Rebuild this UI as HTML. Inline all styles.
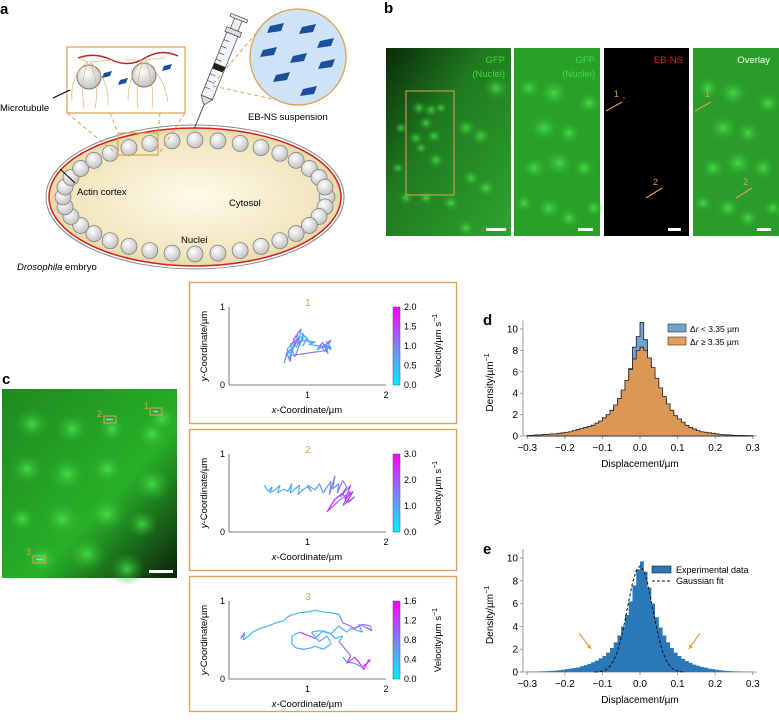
<!DOCTYPE html>
<html><head><meta charset="utf-8"><style>
body{margin:0;background:#fff;width:779px;height:719px;overflow:hidden;font-family:"Liberation Sans",sans-serif}
svg text{font-family:"Liberation Sans",sans-serif}
</style></head><body>
<svg id="fig" width="779" height="719" viewBox="0 0 779 719" xmlns="http://www.w3.org/2000/svg">
<defs>
<radialGradient id="cyto" cx="0.5" cy="0.5" r="0.6"><stop offset="0" stop-color="#fffbea"/><stop offset="0.7" stop-color="#f2e6bf"/><stop offset="1" stop-color="#d9c88f"/></radialGradient>
<radialGradient id="nuc" cx="0.4" cy="0.35" r="0.7"><stop offset="0" stop-color="#ffffff"/><stop offset="1" stop-color="#bdbdbd"/></radialGradient>
<radialGradient id="blob" cx="0.5" cy="0.5" r="0.5"><stop offset="0" stop-color="#4ef04e" stop-opacity="0.75"/><stop offset="1" stop-color="#2a9a2a" stop-opacity="0"/></radialGradient>
<linearGradient id="vel" x1="0" y1="1" x2="0" y2="0"><stop offset="0" stop-color="#00f0ff"/><stop offset="0.5" stop-color="#7f80ff"/><stop offset="1" stop-color="#ff00ff"/></linearGradient>
<linearGradient id="g1" x1="0" y1="0" x2="1" y2="1"><stop offset="0" stop-color="#0a2a0a"/><stop offset="0.4" stop-color="#1f7a1f"/><stop offset="1" stop-color="#2ea42e"/></linearGradient>
<linearGradient id="gc" x1="0" y1="0" x2="1" y2="1"><stop offset="0" stop-color="#1f8a1f"/><stop offset="0.6" stop-color="#27b027"/><stop offset="1" stop-color="#0a200a"/></linearGradient>
</defs>

<g>
<text x="0" y="14" font-size="15" font-weight="bold">a</text>
<ellipse cx="195" cy="197" rx="149" ry="72" fill="#fff" stroke="#888" stroke-width="1"/>
<ellipse cx="195" cy="197" rx="146" ry="69" fill="url(#cyto)" stroke="#d62020" stroke-width="1.5"/>
<g id="nuclei"></g>
<rect x="118" y="133" width="40" height="22" fill="none" stroke="#e2a050" stroke-width="1.2"/>
<line x1="67" y1="113" x2="118" y2="155" stroke="#e2a050" stroke-dasharray="4,3"/>
<line x1="185" y1="113" x2="158" y2="155" stroke="#e2a050" stroke-dasharray="4,3"/>
<line x1="110" y1="113" x2="118" y2="133" stroke="#e2a050" stroke-dasharray="4,3"/>
<line x1="160" y1="113" x2="158" y2="133" stroke="#e2a050" stroke-dasharray="4,3"/>
<rect x="67" y="47" width="118" height="66" fill="#fff" stroke="#e2a050" stroke-width="1.2"/>
<path d="M78,58 Q95,52 112,60 T145,58 T178,56" fill="none" stroke="#c0202a" stroke-width="1.5"/>
<circle cx="89" cy="77" r="12" fill="url(#nuc)" stroke="#777"/>
<circle cx="144" cy="75" r="12" fill="url(#nuc)" stroke="#777"/>
<g stroke="#e8b070" stroke-width="0.7" fill="none">
<path d="M88,62 Q80,80 84,108"/><path d="M90,62 Q100,85 95,108"/><path d="M88,62 Q70,75 72,100"/><path d="M90,62 Q110,80 108,105"/>
<path d="M143,60 Q135,85 138,108"/><path d="M145,60 Q155,85 152,108"/><path d="M143,60 Q128,75 128,100"/><path d="M145,60 Q165,78 168,102"/>
<path d="M88,62 L78,58"/><path d="M90,62 L112,60"/><path d="M143,60 L125,60"/><path d="M145,60 L165,58"/>
</g>
<g fill="#1b4f9c">
<polygon points="104,73 112,71 110,76 102,78"/><polygon points="120,80 128,78 126,83 118,85"/><polygon points="164,66 172,64 170,69 162,71"/>
</g>
<line x1="53" y1="98" x2="70" y2="90" stroke="#000" stroke-width="1"/>
<text x="0" y="111" font-size="9.5">Microtubule</text>
<g>
<g transform="translate(220,65) rotate(22)">
<rect x="-4" y="-50" width="8" height="12" fill="#eee" stroke="#555" stroke-width="0.8"/>
<rect x="-9" y="-52" width="18" height="3" fill="#eee" stroke="#555" stroke-width="0.8"/>
<rect x="-8" y="-38" width="16" height="5" fill="#ddd" stroke="#555" stroke-width="0.8"/>
<rect x="-6" y="-33" width="12" height="68" fill="#f2f6fa" stroke="#555" stroke-width="0.8"/>
<rect x="-6" y="0" width="12" height="6" fill="#222"/>
<polygon points="-6,35 6,35 1,42 -1,42" fill="#ddd" stroke="#555" stroke-width="0.8"/>
<line x1="0" y1="42" x2="0" y2="68" stroke="#333" stroke-width="0.8"/>
<g stroke="#333" stroke-width="0.6"><line x1="-6" y1="-25" x2="0" y2="-25"/><line x1="-6" y1="-18" x2="0" y2="-18"/><line x1="-6" y1="-11" x2="0" y2="-11"/><line x1="-6" y1="-4" x2="0" y2="-4"/><line x1="-6" y1="12" x2="0" y2="12"/><line x1="-6" y1="19" x2="0" y2="19"/><line x1="-6" y1="26" x2="0" y2="26"/></g>
</g></g>
<line x1="213" y1="84" x2="258" y2="31" stroke="#e2a050" stroke-dasharray="4,3"/>
<line x1="213" y1="86" x2="277" y2="100" stroke="#e2a050" stroke-dasharray="4,3"/>
<circle cx="298" cy="57" r="48" fill="#cfe3f8" stroke="#e2a050" stroke-width="1.3"/>
<g fill="#1b4f9c">
<polygon points="270,26 284,23 281,31 267,33"/><polygon points="302,27 316,24 313,32 299,34"/><polygon points="320,41 334,38 331,46 317,48"/>
<polygon points="263,50 277,47 274,55 260,57"/><polygon points="293,56 307,53 304,61 290,63"/><polygon points="321,62 335,59 332,67 318,69"/>
<polygon points="276,75 290,72 287,80 273,82"/><polygon points="303,89 317,86 314,94 300,96"/>
</g>
<text x="248" y="120" font-size="9.5">EB-NS suspension</text>
<line x1="60" y1="169" x2="75" y2="183" stroke="#000" stroke-width="1"/>
<text x="77" y="195" font-size="9.5">Actin cortex</text>
<text x="229" y="206" font-size="9.5">Cytosol</text>
<text x="181" y="243" font-size="9.5">Nuclei</text>
<text x="17" y="270" font-size="9.5"><tspan font-style="italic">Drosophila</tspan> embryo</text>
</g>

<g>
<text x="384" y="13" font-size="15" font-weight="bold">b</text>
<rect x="386" y="48" width="125" height="188" fill="url(#g1)"/>
<g id="blobs1"></g>
<rect x="406" y="91" width="48" height="104" fill="none" stroke="#e2a050" stroke-width="1"/>
<text x="505" y="63" font-size="9.5" fill="#3ddc3d" text-anchor="end">GFP</text>
<text x="505" y="77" font-size="9.5" fill="#3ddc3d" text-anchor="end">(Nuclei)</text>
<rect x="486" y="228" width="20" height="3" fill="#fff"/>
<rect x="514" y="48" width="86" height="188" fill="#29a129"/>
<g id="blobs2"></g>
<text x="595" y="63" font-size="9.5" fill="#3ddc3d" text-anchor="end">GFP</text>
<text x="595" y="77" font-size="9.5" fill="#3ddc3d" text-anchor="end">(Nuclei)</text>
<rect x="578" y="228" width="15" height="3" fill="#fff"/>
<rect x="604" y="48" width="85" height="188" fill="#000"/>
<text x="683" y="63" font-size="9.5" fill="#e02020" text-anchor="end">EB-NS</text>
<text x="614" y="97" font-size="9" fill="#e2a050">1</text>
<line x1="606" y1="111" x2="622" y2="102" stroke="#e2a050" stroke-width="1.2"/>
<circle cx="624" cy="98" r="0.8" fill="#f33"/>
<text x="653" y="185" font-size="9" fill="#e2a050">2</text>
<line x1="646" y1="198" x2="662" y2="188" stroke="#e2a050" stroke-width="1.2"/>
<rect x="668" y="228" width="13" height="3" fill="#fff"/>
<rect x="693" y="48" width="86" height="188" fill="#2a9c2a"/>
<g id="blobs3"></g>
<text x="770" y="63" font-size="9.5" fill="#fff" text-anchor="end">Overlay</text>
<text x="705" y="97" font-size="9" fill="#e2a050">1</text>
<line x1="695" y1="111" x2="711" y2="102" stroke="#e2a050" stroke-width="1.2"/>
<text x="743" y="185" font-size="9" fill="#e2a050">2</text>
<line x1="736" y1="198" x2="752" y2="188" stroke="#e2a050" stroke-width="1.2"/>
<rect x="757" y="228" width="14" height="3" fill="#fff"/>
</g>

<g>
<text x="2" y="384" font-size="15" font-weight="bold">c</text>
<rect x="2" y="389" width="175" height="189" fill="url(#gc)"/>
<g id="blobsc"></g>
<rect x="150" y="408" width="12" height="7" fill="none" stroke="#e2a050" stroke-width="1"/>
<line x1="153" y1="411.5" x2="158" y2="411.5" stroke="#3ff" stroke-width="1.5"/>
<text x="144" y="409" font-size="9" fill="#e2a050">1</text>
<rect x="104" y="416" width="12" height="7" fill="none" stroke="#e2a050" stroke-width="1"/>
<line x1="106" y1="419.5" x2="113" y2="419.5" stroke="#3ff" stroke-width="1.5"/>
<text x="97" y="417" font-size="9" fill="#e2a050">2</text>
<rect x="33" y="556" width="12" height="7" fill="none" stroke="#e2a050" stroke-width="1"/>
<line x1="36" y1="559.5" x2="43" y2="559.5" stroke="#3ff" stroke-width="1.5"/>
<text x="26" y="555" font-size="9" fill="#e2a050">3</text>
<rect x="149" y="570" width="24" height="3" fill="#fff"/>
</g>

<g id="traj"></g>
<g id="histd"></g>
<g id="histe"></g>
</svg>
<script>
const NS='http://www.w3.org/2000/svg';
function mk(tag,attrs,parent){const e=document.createElementNS(NS,tag);for(const k in attrs)e.setAttribute(k,attrs[k]);parent.appendChild(e);return e;}

const binEdgesStart=-0.3, binWidth=0.01;
const dSmall=[0.04,0.05,0.08,0.1,0.12,0.14,0.18,0.2,0.24,0.28,0.32,0.38,0.45,0.55,0.65,0.75,0.85,1.0,1.15,1.35,1.6,1.9,2.3,2.8,3.4,4.2,5.0,6.3,8.3,9.3,10.6,9.0,7.3,6.0,5.0,4.1,3.4,2.8,2.2,1.8,1.5,1.2,0.95,0.75,0.6,0.48,0.38,0.32,0.28,0.22,0.18,0.14,0.11,0.09,0.07,0.05,0.04,0.03,0.02,0.02];
const dLarge=[0.05,0.05,0.1,0.1,0.15,0.15,0.2,0.2,0.25,0.3,0.35,0.4,0.5,0.6,0.7,0.8,0.9,1.0,1.2,1.4,1.7,2.0,2.4,2.9,3.5,4.3,5.2,6.2,7.2,8.0,8.3,8.0,7.3,6.4,5.4,4.5,3.7,3.0,2.4,1.9,1.6,1.3,1.0,0.8,0.65,0.5,0.4,0.35,0.3,0.25,0.2,0.15,0.12,0.1,0.08,0.06,0.05,0.04,0.03,0.02];
const eExp=[0.02,0.03,0.04,0.05,0.07,0.08,0.1,0.12,0.15,0.2,0.25,0.3,0.35,0.4,0.5,0.6,0.7,0.85,1.0,1.2,1.4,1.7,2.1,2.6,3.2,4.0,5.0,6.2,7.6,9.0,9.7,8.8,7.4,6.0,4.8,3.9,3.2,2.6,2.1,1.7,1.4,1.15,0.95,0.8,0.65,0.55,0.45,0.38,0.3,0.25,0.2,0.15,0.12,0.09,0.07,0.05,0.04,0.03,0.02,0.01];
const fitX=[-0.12,-0.11,-0.1,-0.09,-0.08,-0.07,-0.06,-0.05,-0.04,-0.03,-0.02,-0.01,0,0.01,0.02,0.03,0.04,0.05,0.06,0.07,0.08,0.09,0.1,0.11,0.12];
const fitY=[0,0.02,0.08,0.2,0.5,1.0,1.8,3.0,4.5,6.2,7.8,8.9,9.3,8.9,7.8,6.2,4.5,3.0,1.8,1.0,0.5,0.2,0.08,0.02,0];
const xTicks=[-0.3,-0.2,-0.1,0.0,0.1,0.2,0.3];
const xTickLabels=['\u22120.3','\u22120.2','\u22120.1','0.0','0.1','0.2','0.3'];
const yTicks=[0,2,4,6,8,10];

const t1x=[0.7,0.75,0.72,0.8,0.78,0.74,0.85,0.8,0.76,0.83,0.9,0.86,0.82,0.92,0.88,0.95,0.85,0.9,0.98,0.94,1.0,0.92,1.05,0.98,1.1,1.02,1.15,1.2,1.12,1.25,1.18,1.3,1.22,1.28,1.3,1.2,1.26,1.24,1.3,1.16,1.22,0.8,0.74,0.88,0.78,0.84,0.95,0.9];
const t1y=[0.28,0.45,0.35,0.48,0.3,0.4,0.55,0.42,0.33,0.5,0.62,0.48,0.58,0.72,0.52,0.6,0.64,0.55,0.58,0.5,0.6,0.66,0.54,0.57,0.55,0.52,0.5,0.55,0.45,0.52,0.47,0.58,0.42,0.5,0.45,0.53,0.4,0.56,0.48,0.5,0.44,0.38,0.46,0.6,0.52,0.36,0.66,0.5];
const t1v=[1.8,0.6,1.2,0.5,1.6,0.8,0.6,1.0,0.4,0.7,1.4,0.5,0.9,1.5,0.6,0.8,0.4,1.1,0.6,0.9,0.5,0.7,0.6,1.0,0.5,0.8,0.7,1.2,0.9,0.6,1.3,1.8,0.8,0.5,1.0,0.7,1.4,0.6,0.5,0.9,0.7,1.0,0.8,0.6,1.2,0.7,0.9,0.6];
const t2x=[0.45,0.5,0.55,0.52,0.6,0.65,0.62,0.7,0.75,0.8,0.78,0.85,0.9,0.88,0.95,1.0,1.05,1.0,1.1,1.15,1.2,1.25,1.3,1.28,1.35,1.32,1.4,1.38,1.45,1.5,1.42,1.55,1.48,1.58,1.5,1.45,1.35,1.25,1.4,1.55,1.45,1.6,1.52];
const t2y=[0.6,0.52,0.58,0.5,0.55,0.6,0.5,0.55,0.52,0.62,0.5,0.56,0.6,0.48,0.55,0.58,0.52,0.6,0.54,0.62,0.5,0.58,0.65,0.48,0.72,0.55,0.62,0.5,0.66,0.58,0.45,0.6,0.42,0.52,0.38,0.5,0.42,0.26,0.4,0.52,0.34,0.45,0.38];
const t2v=[0.9,0.8,1.0,0.9,0.8,1.1,0.9,0.8,1.2,1.0,0.8,0.9,1.3,0.9,1.0,0.8,1.1,1.2,0.9,1.3,1.0,1.4,1.5,1.2,1.7,1.3,1.5,1.2,1.6,1.4,2.2,1.5,2.6,1.6,2.8,1.8,2.5,2.9,2.0,1.6,2.3,1.7,1.9];
const t3x=[0.15,0.2,0.18,0.25,0.3,0.4,0.5,0.6,0.7,0.75,0.8,0.9,1.0,1.1,1.2,1.3,1.4,1.45,1.5,1.6,1.7,1.8,1.82,1.75,1.65,1.7,1.55,1.5,1.4,1.3,1.2,1.1,0.9,0.8,0.8,0.85,0.95,1.05,1.1,1.2,1.3,1.25,1.15,1.05,1.15,1.3,1.35,1.45,1.4,1.55,1.5,1.6,1.65,1.72,1.78,1.8,1.7,1.6,1.5,1.45];
const t3y=[0.52,0.6,0.5,0.55,0.6,0.65,0.68,0.72,0.75,0.8,0.82,0.85,0.86,0.88,0.86,0.85,0.83,0.72,0.7,0.65,0.7,0.68,0.62,0.66,0.7,0.6,0.65,0.6,0.68,0.58,0.62,0.52,0.6,0.55,0.45,0.4,0.38,0.4,0.42,0.38,0.45,0.55,0.48,0.6,0.62,0.58,0.52,0.55,0.48,0.3,0.2,0.28,0.22,0.12,0.25,0.24,0.15,0.2,0.22,0.28];
const t3v=[0.6,1.2,0.4,0.5,0.3,0.4,0.6,0.5,0.4,0.3,0.8,0.3,0.5,0.4,0.3,0.4,0.6,0.5,0.8,1.0,1.2,0.9,0.5,1.4,0.7,0.6,0.5,0.4,0.6,0.5,0.4,0.5,1.2,0.3,0.4,0.3,0.4,0.5,0.3,0.4,0.5,0.3,0.6,0.4,0.5,0.4,0.6,0.3,0.5,0.8,1.2,0.9,1.5,1.4,1.2,0.6,1.4,0.5,1.0,0.6];
const cbTicks1=['0.0','0.5','1.0','1.5','2.0'], cbMax1=2.0;
const cbTicks2=['0.0','1.0','2.0','3.0'], cbMax2=3.0;
const cbTicks3=['0.0','0.4','0.8','1.2','1.6'], cbMax3=1.6;

const nucG=document.getElementById('nuclei');
for(let i=0;i<36;i++){const a=i/36*Math.PI*2;
 const c=mk('circle',{cx:195+132*Math.cos(a),cy:197+57*Math.sin(a),r:8,fill:'url(#nuc)',stroke:'#777','stroke-width':0.7},nucG);
 
 }

function blobs(id,list,ox,oy){const g=document.getElementById(id);list.forEach(b=>{const e=mk('ellipse',{cx:ox+b[0],cy:oy+b[1],rx:b[2]*1.3,ry:b[2]*1.2,fill:'url(#blob)'},g);
 
 });}
blobs('blobs1',[[33,60,6],[45,62,6],[40,75,6],[30,90,6],[48,88,6],[50,112,7],[35,100,5],[55,60,5],[80,80,8],[95,88,8],[85,130,7],[100,140,8],[15,80,5],[12,120,5],[20,150,6],[65,155,7],[80,180,7],[110,40,10],[40,150,6]],386,48);
blobs('blobs2',[[15,40,10],[40,45,12],[75,55,10],[30,80,12],[55,85,10],[20,120,10],[45,115,12],[70,120,10],[35,160,10],[55,170,9],[80,160,8],[10,155,8]],514,48);
blobs('blobs3',[[15,40,10],[40,45,12],[75,55,10],[30,80,12],[55,85,10],[20,120,10],[45,115,12],[70,120,10],[35,160,10],[55,170,9],[80,160,8],[10,155,8]],693,48);
blobs('blobsc',[[30,35,14],[70,40,14],[110,40,12],[150,45,14],[25,80,14],[65,85,16],[105,80,14],[150,95,16],[20,130,12],[60,130,16],[105,125,16],[140,135,12],[40,170,14],[85,165,16],[125,180,14],[160,30,12]],2,389);

const trajG=document.getElementById('traj');
function velColor(v,max){const t=Math.max(0,Math.min(1,v/max));
 let r,g;if(t<0.5){const u=t/0.5;r=Math.round(127*u);g=Math.round(240-112*u);}else{const u=(t-0.5)/0.5;r=Math.round(127+128*u);g=Math.round(128-128*u);}
 return `rgb(${r},${g},255)`;}
function panel(idx,oy,xs,ys,vs,cbTicks,cbMax){
 const g=mk('g',{},trajG);
 
 
 const px=x=>229+x*78.5, py=y=>385+oy-y*78;
 const box=mk('rect',{x:189.5,y:282.5+oy,width:267,height:idx===3?135:141,fill:'none',stroke:'#e2a050','stroke-width':1.3},g);
  
 const t=mk('text',{x:308,y:306+oy,'font-size':10,fill:'#e2a050','text-anchor':'middle'},g);t.textContent=idx;
  
 const ax=mk('path',{d:`M${px(0)},${py(1)} L${px(0)},${py(0)} L${px(2)},${py(0)}`,fill:'none',stroke:'#555','stroke-width':0.8},g);
  
 [[0,'0'],[1,'1']].forEach(([v,l])=>{const e=mk('text',{x:px(0)-4,y:py(v)+3,'font-size':9,'text-anchor':'end'},g);e.textContent=l;
   });
 [[1,'1'],[2,'2']].forEach(([v,l])=>{const e=mk('text',{x:px(v),y:py(0)+13,'font-size':9,'text-anchor':'middle'},g);e.textContent=l;
   });
 const xl=mk('text',{x:307,y:py(0)+28,'font-size':9.5,'text-anchor':'middle'},g);xl.innerHTML='<tspan font-style="italic">x</tspan>-Coordinate/µm';
  
 const yl=mk('text',{x:0,y:0,'font-size':9.5,'text-anchor':'middle',transform:`translate(207,${py(0.5)}) rotate(-90)`},g);yl.innerHTML='<tspan font-style="italic">y</tspan>-Coordinate/µm';
  
 for(let i=1;i<xs.length;i++){const s=mk('line',{x1:px(xs[i-1]),y1:py(ys[i-1]),x2:px(xs[i]),y2:py(ys[i]),stroke:velColor(vs[i],cbMax),'stroke-width':1.2},g);
   }
 const cb=mk('rect',{x:393,y:py(1),width:7,height:78,fill:'url(#vel)',stroke:'#555','stroke-width':0.5},g);
  
 cbTicks.forEach((l,i)=>{const e=mk('text',{x:404,y:py(i/(cbTicks.length-1))+3,'font-size':9},g);e.textContent=l;
   });
 const cl=mk('text',{x:0,y:0,'font-size':9.5,'text-anchor':'middle',transform:`translate(441,${py(0.5)}) rotate(-90)`},g);cl.innerHTML='Velocity/µm s<tspan dy="-4" font-size="7">−1</tspan>';
  
}
panel(1,0,t1x,t1y,t1v,cbTicks1,cbMax1);
panel(2,147,t2x,t2y,t2v,cbTicks2,cbMax2);
panel(3,294,t3x,t3y,t3v,cbTicks3,cbMax3);

function histAxes(g,y0,yscale,label){
 const sx=x=>640+x*376, sy=y=>y0-y*yscale;
 const ax=mk('path',{d:`M523,${sy(10.8)} L523,${sy(0)} M${sx(-0.31)},${sy(0)} L${sx(0.31)},${sy(0)}`,stroke:'#999','stroke-width':1,fill:'none'},g);
  
 yTicks.forEach(v=>{const tk=mk('line',{x1:520,x2:523,y1:sy(v),y2:sy(v),stroke:'#999'},g);
   
  const e=mk('text',{x:518,y:sy(v)+3.5,'font-size':10,'text-anchor':'end'},g);e.textContent=v;
   });
 xTicks.forEach((v,i)=>{const tk=mk('line',{x1:sx(v),x2:sx(v),y1:sy(0),y2:sy(0)+3,stroke:'#999'},g);
   
  const e=mk('text',{x:sx(v),y:sy(0)+15,'font-size':10,'text-anchor':'middle'},g);e.textContent=xTickLabels[i];
   });
 const xl=mk('text',{x:640,y:sy(0)+31,'font-size':10,'text-anchor':'middle'},g);xl.textContent='Displacement/µm';
  
 const yl=mk('text',{x:0,y:0,'font-size':10,'text-anchor':'middle',transform:`translate(493,${sy(5)}) rotate(-90)`},g);yl.innerHTML='Density/µm<tspan dy="-4" font-size="7">−1</tspan>';
  
 const pl=mk('text',{x:483,y:sy(10)-4,'font-size':15,'font-weight':'bold'},g);pl.textContent=label;
  
 return [sx,sy];
}
function stepHist(g,vals,sx,sy,fill,stroke,op,name){
 let d=`M${sx(binEdgesStart)},${sy(0)}`;
 vals.forEach((v,i)=>{const x0=binEdgesStart+i*binWidth;d+=` L${sx(x0)},${sy(v)} L${sx(x0+binWidth)},${sy(v)}`;});
 d+=` L${sx(binEdgesStart+vals.length*binWidth)},${sy(0)} Z`;
 const p=mk('path',{d:d,fill:fill,'fill-opacity':op,stroke:stroke,'stroke-width':stroke==='none'?0:0.8,'stroke-linejoin':'miter'},g);
 
 
}
const gd=document.getElementById('histd');


const [dsx,dsy]=histAxes(gd,436,10.7,'d');
stepHist(gd,dSmall,dsx,dsy,'#6ea3d2','#222',1,'hist-small-dr');
stepHist(gd,dLarge,dsx,dsy,'#e0974f','#222',0.95,'hist-large-dr');
const l1=mk('rect',{x:668,y:324,width:18,height:8,fill:'#6ea3d2',stroke:'#333','stroke-width':0.6},gd);
 
const l2=mk('rect',{x:668,y:337,width:18,height:8,fill:'#eb9c54',stroke:'#333','stroke-width':0.6},gd);
 
const lt1=mk('text',{x:690,y:332,'font-size':8.5},gd);lt1.innerHTML='Δ<tspan font-style="italic">r</tspan> &lt; 3.35 µm';
 
const lt2=mk('text',{x:690,y:345,'font-size':8.5},gd);lt2.innerHTML='Δ<tspan font-style="italic">r</tspan> ≥ 3.35 µm';
 

const ge=document.getElementById('histe');


const [esx,esy]=histAxes(ge,672,11.4,'e');
stepHist(ge,eExp,esx,esy,'#2a78b8','none',1,'hist-experimental');
let d='';fitX.forEach((x,i)=>{d+=(i?'L':'M')+esx(x)+','+esy(fitY[i]);});
const fp=mk('path',{d:d,fill:'none',stroke:'#111','stroke-width':1,'stroke-dasharray':'3,2'},ge);
 
const le1=mk('rect',{x:652,y:566,width:19,height:7,fill:'#2a78b8',stroke:'#222','stroke-width':0.6},ge);
 
const le2=mk('line',{x1:652,x2:671,y1:581,y2:581,stroke:'#111','stroke-dasharray':'3,2'},ge);
 
const let1=mk('text',{x:676,y:573,'font-size':9},ge);let1.textContent='Experimental data';
 
const let2=mk('text',{x:676,y:584,'font-size':9},ge);let2.textContent='Gaussian fit';
 
[[579,633,591,649],[700,633,689,649]].forEach((a,i)=>{const ln=mk('line',{x1:a[0],y1:a[1],x2:a[2],y2:a[3],stroke:'#e8a050','stroke-width':1.3},ge);
  
 const dx=a[2]-a[0],dy=a[3]-a[1],L=Math.hypot(dx,dy),ux=dx/L,uy=dy/L;
 const h=mk('polygon',{points:`${a[2]},${a[3]} ${a[2]-ux*4-uy*2.5},${a[3]-uy*4+ux*2.5} ${a[2]-ux*4+uy*2.5},${a[3]-uy*4-ux*2.5}`,fill:'#e8a050'},ge);
  });
</script>
</body></html>
